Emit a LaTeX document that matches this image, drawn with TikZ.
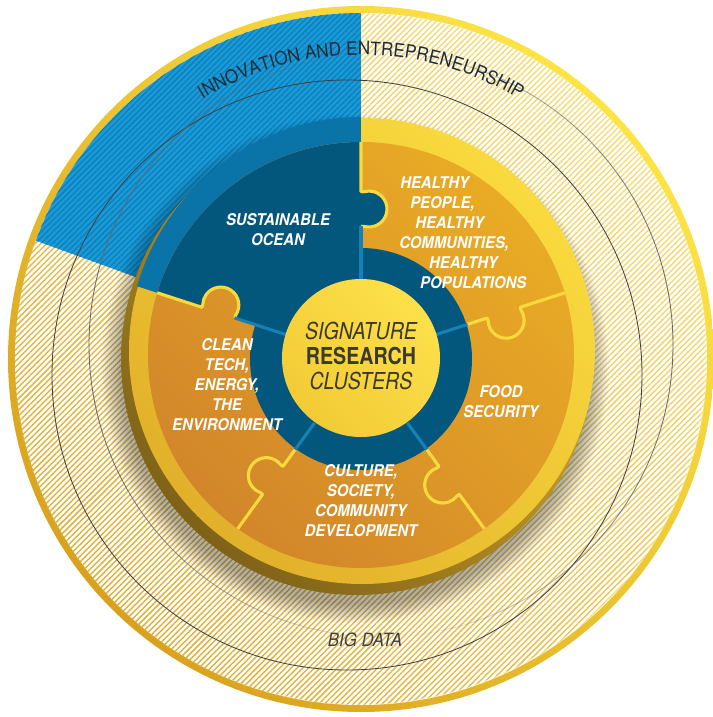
\documentclass[tikz,border=0pt]{standalone}
\usepackage{fontspec}
\setmainfont{TeX Gyre Heros}
\newfontfamily\clusterfont{TeX Gyre Heros}[FakeStretch=0.92]
\newfontfamily\hubfont{TeX Gyre Heros}[FakeStretch=0.84]
\usetikzlibrary{patterns.meta,decorations.text,fadings}

\definecolor{rimgold}{HTML}{D9A21E}
\definecolor{rimyellow}{HTML}{FDE445}
\definecolor{hatchlight}{HTML}{F8DC6C}
\definecolor{hatchgold}{HTML}{DCAE3E}
\definecolor{skyblue}{HTML}{1A9AD6}
\definecolor{skystripe}{HTML}{0B7FBC}
\definecolor{oceanmid}{HTML}{0A74A8}
\definecolor{oceandark}{HTML}{03577C}
\definecolor{seamblue}{HTML}{1781B7}
\definecolor{ringyellow}{HTML}{F9DA3E}
\definecolor{ringgold}{HTML}{E2B02A}
\definecolor{bevelgold}{HTML}{7E6218}
\definecolor{orangelight}{HTML}{E9AB25}
\definecolor{orangedark}{HTML}{D2862A}
\definecolor{hubyellow}{HTML}{FDE04A}
\definecolor{hubgold}{HTML}{F2CB36}
\definecolor{inktext}{HTML}{1E2B38}
\definecolor{hubtext}{HTML}{3C392F}

% puzzle tab, drawn along the x axis, bulging to -y
\newcommand{\puzzletab}{-- (132.7,0) -- (132.7,-3) arc[start angle=163.9, end angle=376.1, radius=18] -- (167.3,0)}

\begin{document}
\begin{tikzpicture}[x=0.025cm, y=0.025cm,
    seam/.style={draw=ringyellow, line width=2.2pt, line join=round},
    seamin/.style={draw=seamblue, line width=2.2pt},
    hatch/.style={pattern={Lines[angle=45,distance=2.9pt,line width=0.9pt]}},
    cluster/.style={font=\clusterfont\bfseries\itshape\fontsize{11.5}{14.2}\selectfont, text=white, inner sep=0pt},
    hubline/.style={font=\hubfont\fontsize{16.6}{18}\selectfont, text=hubtext, inner sep=0pt}]
    \useasboundingbox (-361,-358) rectangle (351,359);

    % outer rim and hatched field
    \shade[bottom color=rimgold, top color=rimyellow, shading angle=-45] (0,0) circle (353);
    \fill[white] (0,0) circle (346);
    \fill[hatch, pattern color=hatchlight] (0,0) circle (346);
    \fill[hatch, pattern color=hatchgold, path fading=north, fading angle=-45] (0,0) circle (346);

    % blue wedge
    \fill[skyblue] (0,0) -- (90:346) arc[start angle=90, end angle=160, radius=346] -- cycle;
    \fill[hatch, pattern color=skystripe] (0,0) -- (90:346) arc[start angle=90, end angle=160, radius=346] -- cycle;

    % thin rings
    \draw[black!75, line width=0.6pt] (-14,-16) circle (295);
    \foreach \a [evaluate=\a as \op using {abs(cos(\a))}] in {0,6,...,354}
        \draw[black!60, line width=0.6pt, opacity=\op] (20,14) ++(\a:292) arc[start angle=\a, end angle=\a+6, radius=292];

    % shadow and bevel
    \foreach \k in {0,...,9}
        \fill[black, opacity=0.035] (-6,-10) circle[radius=236+2*\k];
    \shade[bottom color=bevelgold, top color=ringgold, shading angle=-45] (-4,0) circle (236);

    % yellow ring, blue in the ocean sector
    \shade[bottom color=ringgold, top color=ringyellow, shading angle=-45] (1,8) circle (233);
    \begin{scope}
        \clip (0,0) -- (90:300) arc[start angle=90, end angle=162, radius=300] -- cycle;
        \fill[oceanmid] (1,8) circle (234);
    \end{scope}

    % puzzle pieces
    \begin{scope}
        \clip (0,4) circle (213);
        \shade[bottom color=orangedark, top color=orangelight, shading angle=-45] (0,4) circle (213);
        \fill[oceandark] (0,0) -- (90:300) arc[start angle=90, end angle=162, radius=300] -- cycle;
        \fill[oceandark, rotate=90] (132.7,1) \puzzletab -- (167.3,1) -- cycle;
        \begin{scope}
            \clip[rotate=162] (132.7,1) \puzzletab -- (167.3,1) -- cycle;
            \shade[bottom color=orangedark, top color=orangelight, shading angle=-45] (0,4) circle (213);
        \end{scope}
        \foreach \a in {18,-54,-126}
            \draw[seam, rotate=\a] (105,0) \puzzletab -- (220,0);
        \foreach \a in {90,162}
            \draw[seam, rotate=\a] (132.7,0) \puzzletab -- (220,0);
    \end{scope}

    % inner ring
    \fill[oceandark] (0,0) circle (111);
    \foreach \a in {18,-54,-126}
        \draw[seamin] (\a:79) -- (\a:112);
    \foreach \a in {90,162}
        \draw[seamin] (\a:79) -- (\a:133);

    % hub
    \shade[bottom color=hubgold, top color=hubyellow, shading angle=-45] (0,1) circle (79);
    \node[hubline, align=center] (hub) at (0,3) {{\itshape SIGNATURE}\\{\bfseries RESEARCH}\\{\itshape CLUSTERS}};

    % clusters
    \node[cluster, align=center] (ocean) at (-83,129) {SUSTAINABLE\\OCEAN};
    \node[cluster, align=left, anchor=west] (health) at (38,126)
        {\hspace*{0.7pt}HEALTHY\\\hspace*{7.8pt}PEOPLE,\\\hspace*{11.4pt}HEALTHY\\COMMUNITIES,\\\hspace*{21.3pt}HEALTHY\\\hspace*{14.9pt}POPULATIONS};
    \node[cluster, align=center] (food) at (140,-43) {FOOD\\SECURITY};
    \node[cluster, align=center] (culture) at (0,-142) {CULTURE,\\SOCIETY,\\COMMUNITY\\DEVELOPMENT};
    \node[cluster, align=center] (cleantech) at (-134,-26) {CLEAN\\TECH,\\ENERGY,\\THE\\ENVIRONMENT};

    % outer labels
    \path[decorate, decoration={text along path, text align=center, text color=inktext,
        text={|\clusterfont\fontsize{13.2}{15}\selectfont|INNOVATION AND ENTREPRENEURSHIP}}]
        (150:304) arc[start angle=150, end angle=30, radius=304];
    \node[font=\clusterfont\itshape\fontsize{13}{15}\selectfont, text=black!75] (bigdata) at (4,-281) {BIG DATA};
\end{tikzpicture}
\end{document}
